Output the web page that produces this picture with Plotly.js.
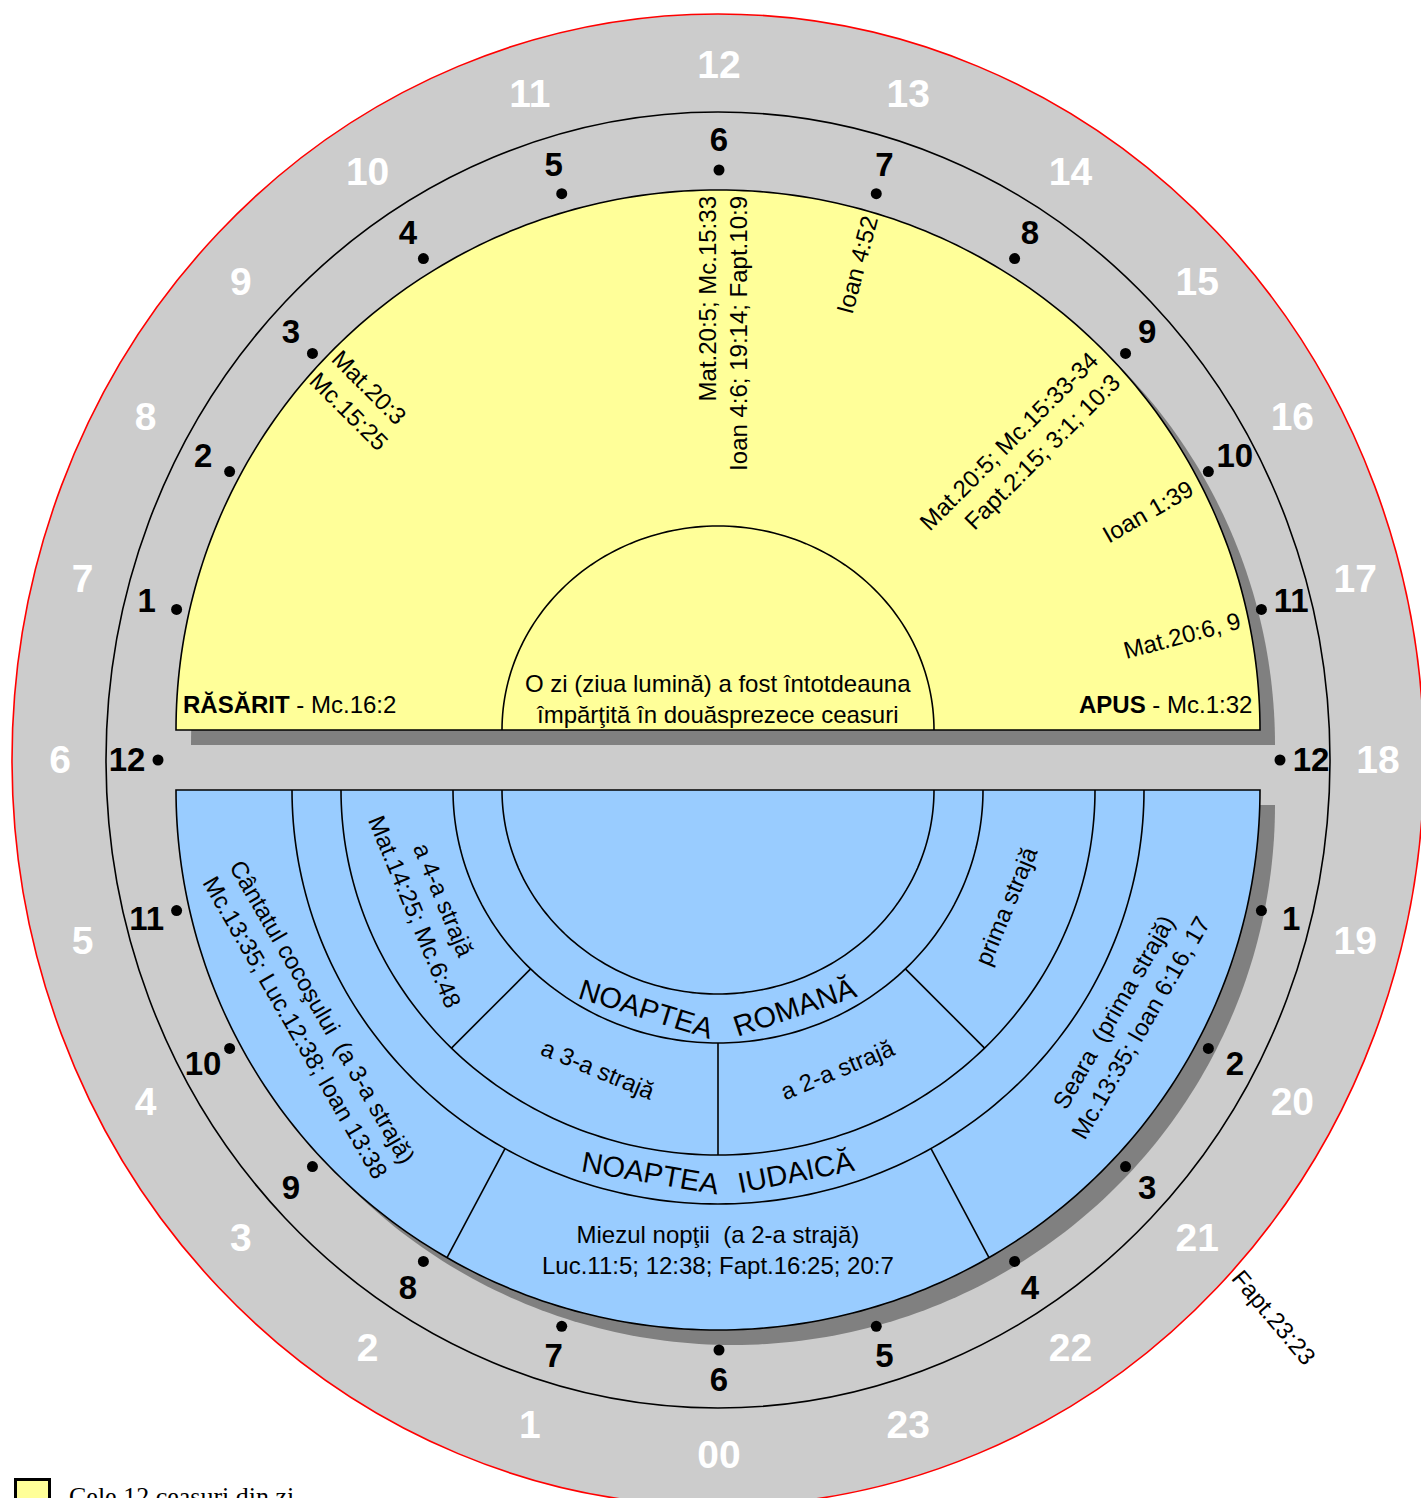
<!DOCTYPE html>
<html><head><meta charset="utf-8">
<script src="https://cdn.plot.ly/plotly-3.0.1.min.js"></script>
<style>html,body{margin:0;padding:0;background:#fff;overflow:hidden}</style>
</head><body>
<div id="chart" style="width:1421px;height:1498px"></div>
<script>
// ---------------- DATA ----------------
// 24-hour clock (outer white ring): index = hour of the modern clock
const clockLabels = ['00','1','2','3','4','5','6','7','8','9','10','11','12','13','14','15','16','17','18','19','20','21','22','23'];
// the 12 hours of the day (yellow half) and of the night (blue half)
const dayHourLabels = ['1','2','3','4','5','6','7','8','9','10','11','12'];
const nightHourLabels = ['1','2','3','4','5','6','7','8','9','10','11','12'];
// Bible references for hours of the day
const dayRefHours = [3, 6, 7, 9, 10, 11];
const dayRefTexts = [
  'Mat.20:3<br>Mc.15:25',
  'Mat.20:5; Mc.15:33<br>Ioan 4:6; 19:14; Fapt.10:9',
  'Ioan 4:52',
  'Mat.20:5; Mc.15:33-34<br>Fapt.2:15; 3:1; 10:3',
  'Ioan 1:39',
  'Mat.20:6, 9'
];
// Roman night: 4 watches ; Jewish night: 3 watches
const romanWatches = ['prima strajă', 'a 2-a strajă', 'a 3-a strajă', 'a 4-a strajă<br>Mat.14:25; Mc.6:48'];
const jewishWatches = [
  'Seara  (prima strajă)<br>Mc.13:35; Ioan 6:16, 17',
  'Miezul nopţii  (a 2-a strajă)<br>Luc.11:5; 12:38; Fapt.16:25; 20:7',
  'Cântatul cocoşului  (a 3-a strajă)<br>Mc.13:35; Luc.12:38; Ioan 13:38'
];
const ringTitles = ['NOAPTEA ROMANĂ', 'NOAPTEA IUDAICĂ'];
const dayTitle = 'O zi (ziua lumină) a fost întotdeauna<br>împărţită în douăsprezece ceasuri';
const sunrise = '<b>RĂSĂRIT</b> - Mc.16:2';
const sunset = '<b>APUS</b> - Mc.1:32';
const watchRefHour = 21; const watchRefText = 'Fapt.23:23';
const legendText = 'Cele 12 ceasuri din zi';

// ---------------- GEOMETRY / STYLE ----------------
const W = 1421, H = 1498;
const FONT = '"Liberation Sans", Arial, Helvetica, sans-serif';
const C = {x: 718, y: 760};           // clock centre (rings)
const NUMX = 719;                     // centre x used for the hour numbers
const TXTDY = 3;                      // optical centring of the number glyphs
const DAY = {x: 718, y: 730};         // yellow half centre
const NIGHT = {x: 718, y: 790};       // blue half centre
const SH = 15;                        // shadow offset
const RY = {216: 204, 265: 253, 377: 365, 426: 414, 542: 540};
const rad = d => d * Math.PI / 180;

// polar position on an ellipse (true angle), hour 0 at the bottom, clockwise;
// k slightly gathers the labels toward the diagonals as in the drawing
function clockPos(h, rx, ry, k, dy) {
  let fd = h * 15; fd = fd + (k || 0) * Math.sin(rad(4 * fd));
  const f = rad(fd), s = Math.sin(f), c = Math.cos(f);
  const r = 1 / Math.sqrt((s / rx) * (s / rx) + (c / ry) * (c / ry));
  return [NUMX - r * s, C.y + r * c + (dy || 0)];
}
function arc(cx, cy, rx, ry, t0, t1, n) {
  const pts = [];
  for (let i = 0; i <= n; i++) { const t = rad(t0 + (t1 - t0) * i / n); pts.push([cx + rx * Math.cos(t), cy + ry * Math.sin(t)]); }
  return pts;
}
function toPath(pts, close) { return 'M ' + pts.map(p => p[0].toFixed(2) + ',' + p[1].toFixed(2)).join(' L ') + (close ? ' Z' : ''); }
function nightPt(r, b) { return [NIGHT.x + r * Math.cos(rad(b)), NIGHT.y + RY[r] * Math.sin(rad(b))]; }

const shapes = [];
const below = 'below';
// outer ring
shapes.push({type: 'circle', xref: 'x', yref: 'y', x0: C.x - 706, x1: C.x + 706, y0: C.y - 746, y1: C.y + 746,
  fillcolor: '#cccccc', line: {color: '#ff0000', width: 1.6}, layer: below});
shapes.push({type: 'circle', xref: 'x', yref: 'y', x0: C.x - 612, x1: C.x + 612, y0: C.y - 648, y1: C.y + 648,
  fillcolor: 'rgba(0,0,0,0)', line: {color: '#000', width: 1.6}, layer: below});
// shadows
shapes.push({type: 'path', xref: 'x', yref: 'y', path: toPath(arc(DAY.x + SH, DAY.y + SH, 542, 540, 180, 360, 200), true),
  fillcolor: '#808080', line: {width: 0}, layer: below});
shapes.push({type: 'path', xref: 'x', yref: 'y', path: toPath(arc(NIGHT.x + SH, NIGHT.y + SH, 542, 540, 0, 180, 200), true),
  fillcolor: '#808080', line: {width: 0}, layer: below});
// day half
shapes.push({type: 'path', xref: 'x', yref: 'y', path: toPath(arc(DAY.x, DAY.y, 542, 540, 180, 360, 200), true),
  fillcolor: '#ffff99', line: {color: '#000', width: 1.6}, layer: below});
shapes.push({type: 'path', xref: 'x', yref: 'y', path: toPath(arc(DAY.x, DAY.y, 216, 204, 180, 360, 120), false),
  line: {color: '#000', width: 1.6}, layer: below});
// night half
shapes.push({type: 'path', xref: 'x', yref: 'y', path: toPath(arc(NIGHT.x, NIGHT.y, 542, 540, 0, 180, 200), true),
  fillcolor: '#99ccff', line: {color: '#000', width: 1.6}, layer: below});
[216, 265, 377, 426].forEach(r => shapes.push({type: 'path', xref: 'x', yref: 'y',
  path: toPath(arc(NIGHT.x, NIGHT.y, r, RY[r], 0, 180, 160), false), line: {color: '#000', width: 1.6}, layer: below}));
// watch dividers
for (let k = 1; k < romanWatches.length; k++) {
  const b = 180 * k / romanWatches.length; const a = nightPt(265, b), c = nightPt(377, b);
  shapes.push({type: 'line', xref: 'x', yref: 'y', x0: a[0], y0: a[1], x1: c[0], y1: c[1], line: {color: '#000', width: 1.6}, layer: below});
}
for (let k = 1; k < jewishWatches.length; k++) {
  const b = 180 * k / jewishWatches.length; const a = nightPt(426, b), c = nightPt(542, b);
  shapes.push({type: 'line', xref: 'x', yref: 'y', x0: a[0], y0: a[1], x1: c[0], y1: c[1], line: {color: '#000', width: 1.6}, layer: below});
}
// legend swatch
shapes.push({type: 'rect', xref: 'x', yref: 'y', x0: 15.5, x1: 49.5, y0: 1479.5, y1: 1530, fillcolor: '#ffff99', line: {color: '#000', width: 3}, layer: 'above'});

// ---------------- TRACES ----------------
const traces = [];
// white 24h numbers
const wp = clockLabels.map((_, i) => clockPos(i, 659, 695, 1.0, TXTDY));
traces.push({type: 'scatter', mode: 'text', x: wp.map(p => p[0]), y: wp.map(p => p[1]),
  text: clockLabels.map(t => '<b>' + t + '</b>'), textposition: 'middle center',
  textfont: {family: FONT, size: 39, color: '#ffffff'}, hoverinfo: 'skip'});
// hour dots and labels
const dayH = dayHourLabels.map((_, k) => 6 + (k + 1));
const nightH = nightHourLabels.map((_, k) => 18 + (k + 1));
const allH = dayH.concat(nightH);
const allL = dayHourLabels.concat(nightHourLabels);
const dp = allH.map(h => clockPos(h, 561, 590, 0.6, 0));
traces.push({type: 'scatter', mode: 'markers', x: dp.map(p => p[0]), y: dp.map(p => p[1]),
  marker: {size: 11, color: '#000'}, hoverinfo: 'skip'});
const lp = allH.map(h => clockPos(h, 592, 620, 0.6, TXTDY));
traces.push({type: 'scatter', mode: 'text', x: lp.map(p => p[0]), y: lp.map(p => p[1]),
  text: allL.map(t => '<b>' + t + '</b>'), textposition: 'middle center',
  textfont: {family: FONT, size: 33, color: '#000'}, hoverinfo: 'skip'});

// ---------------- ANNOTATIONS ----------------
const ann = [];
function A(x, y, text, o) {
  ann.push(Object.assign({x: x, y: y, xref: 'x', yref: 'y', text: text, showarrow: false,
    font: {family: FONT, size: 24, color: '#000'}, xanchor: 'center', yanchor: 'middle', borderpad: 0}, o || {}));
}
// day references placed along their hour direction
const dayRefPlace = [{a: 42.7, r: 487}, {a: 90.7, r: 397}, {a: 106.6, r: 485}, {a: 137.4, r: 410}, {a: 153.1, r: 482}, {a: 168.5, r: 473}];
dayRefTexts.forEach((t, i) => {
  const h = dayRefHours[i]; const hourAng = h * 15;
  const rot = h < 6 ? hourAng : hourAng - 180;
  const pl = dayRefPlace[i];
  A(DAY.x - pl.r * Math.cos(rad(pl.a)), DAY.y - pl.r * Math.sin(rad(pl.a)), t, {textangle: rot, align: h < 6 ? 'left' : 'right'});
});
A(DAY.x, 699, dayTitle, {align: 'center'});
A(182, 704, sunrise, {xanchor: 'left'});
A(1253, 704, sunset, {xanchor: 'right'});
// watches
romanWatches.forEach((t, k) => {
  const b = 180 * (k + 0.5) / romanWatches.length; const r = 312;
  A(NIGHT.x + r * Math.cos(rad(b)), NIGHT.y + (r - 10) * Math.sin(rad(b)), t, {textangle: b - 90, align: 'center'});
});
jewishWatches.forEach((t, k) => {
  const b = 180 * (k + 0.5) / jewishWatches.length; const r = 472;
  A(NIGHT.x + r * Math.cos(rad(b)), NIGHT.y + (r - 12) * Math.sin(rad(b)), t, {textangle: b - 90, align: 'center'});
});
// ring titles, word by word along the arc
const cv = document.createElement('canvas').getContext('2d');
const TSIZE = 29;
cv.font = TSIZE + 'px "Liberation Sans"';
[[ringTitles[0], 241], [ringTitles[1], 401]].forEach(([title, rb]) => {
  const words = title.split(' ');
  const gap = cv.measureText(' ').width * 2.2;
  const ws = words.map(w => cv.measureText(w).width);
  const L = ws.reduce((s, v) => s + v, 0) + gap * (words.length - 1);
  let s = -L / 2;
  words.forEach((w, i) => {
    const sc = s + ws[i] / 2; s += ws[i] + gap;
    const b = 90 - sc / rb * 180 / Math.PI;
    A(NIGHT.x + rb * Math.cos(rad(b)), NIGHT.y + (rb - 12) * Math.sin(rad(b)), w,
      {textangle: b - 90, font: {family: FONT, size: TSIZE, color: '#000'}});
  });
});
// reference outside the clock
const fp = clockPos(watchRefHour, 788, 790, 0, 0);
A(fp[0] - 3, fp[1], watchRefText, {textangle: 50});
// legend
A(68, 1481, legendText, {xanchor: 'left', yanchor: 'top', font: {family: '"Liberation Serif", "Times New Roman", serif', size: 26, color: '#000'}});

const layout = {
  width: W, height: H, margin: {l: 0, r: 0, t: 0, b: 0, pad: 0},
  paper_bgcolor: '#ffffff', plot_bgcolor: '#ffffff', showlegend: false, hovermode: false,
  xaxis: {range: [0, W], visible: false, fixedrange: true},
  yaxis: {range: [H, 0], visible: false, fixedrange: true},
  shapes: shapes, annotations: ann
};
Plotly.newPlot('chart', traces, layout, {displayModeBar: false, staticPlot: true});
</script>
</body></html>
